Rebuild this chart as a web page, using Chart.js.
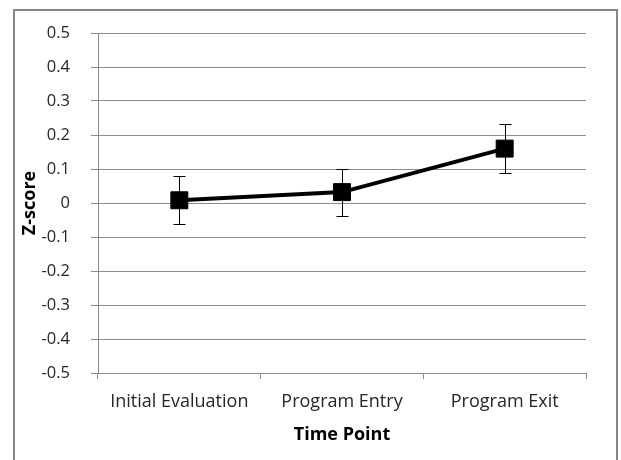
<!DOCTYPE html>
<html>
<head>
<meta charset="utf-8">
<script src="https://cdn.jsdelivr.net/npm/chart.js@4.4.1/dist/chart.umd.min.js"></script>
<style>
    body { margin: 0; background: #fff; }
    #wrap { position: relative; width: 621px; height: 460px; overflow: hidden; }
    #frame { position: absolute; left: 13px; top: 9px; width: 601px; height: 500px; border: 2px solid #868686; }
    #chart { position: absolute; left: 0; top: 0; }
</style>
</head>
<body>
<div id="wrap">
    <div id="frame"></div>
    <canvas id="chart" width="621" height="460"></canvas>
</div>
<script>
// Chart data
const timePoints = ['Initial Evaluation', 'Program Entry', 'Program Exit'];
const zScores = [0.008, 0.032, 0.16];
const errors = [0.07, 0.069, 0.071];
const yTicks = [-0.5, -0.4, -0.3, -0.2, -0.1, 0, 0.1, 0.2, 0.3, 0.4, 0.5];
const yTickLabels = ['-0.5', '-0.4', '-0.3', '-0.2', '-0.1', '0', '0.1', '0.2', '0.3', '0.4', '0.5'];

const FONT = "'Open Sans', sans-serif";
const GRID = '#8c8c8c';

// Draws the vertical error bars with caps
const errorBars = {
    id: 'errorBars',
    afterDatasetsDraw(chart) {
        const ctx = chart.ctx;
        const x = chart.scales.x;
        const y = chart.scales.y;
        ctx.save();
        ctx.strokeStyle = '#000';
        ctx.lineWidth = 1;
        zScores.forEach((v, i) => {
            const px = Math.round(x.getPixelForValue(i)) + 0.5;
            const top = Math.round(y.getPixelForValue(v + errors[i])) + 0.5;
            const bottom = Math.round(y.getPixelForValue(v - errors[i])) + 0.5;
            ctx.beginPath();
            ctx.moveTo(px, top);
            ctx.lineTo(px, bottom);
            ctx.moveTo(px - 6, top);
            ctx.lineTo(px + 6, top);
            ctx.moveTo(px - 6, bottom);
            ctx.lineTo(px + 6, bottom);
            ctx.stroke();
        });
        ctx.restore();
    }
};

new Chart(document.getElementById('chart'), {
    type: 'line',
    data: {
        labels: timePoints,
        datasets: [{
            data: zScores,
            borderColor: '#000',
            borderWidth: 4,
            backgroundColor: '#000',
            pointStyle: 'rect',
            pointRadius: 12,
            pointBackgroundColor: '#000',
            pointBorderColor: '#000',
            pointBorderWidth: 1,
            tension: 0
        }]
    },
    options: {
        responsive: false,
        animation: false,
        events: [],
        layout: { padding: { top: 33, right: 35, bottom: 0, left: 0 } },
        plugins: {
            legend: { display: false },
            tooltip: { enabled: false }
        },
        scales: {
            x: {
                offset: true,
                grid: {
                    offset: true,
                    drawOnChartArea: false,
                    drawTicks: true,
                    tickLength: 6,
                    color: GRID
                },
                border: { color: GRID, width: 1 },
                ticks: {
                    color: '#262626',
                    padding: 12,
                    maxRotation: 0,
                    font: { family: FONT, size: 18 }
                },
                title: {
                    display: true,
                    text: 'Time Point',
                    color: '#000',
                    font: { family: FONT, size: 18, weight: 'bold' },
                    padding: { top: 4, bottom: 14 }
                },
                afterFit(scale) { scale.height = 87; }
            },
            y: {
                min: -0.5,
                max: 0.5,
                afterBuildTicks(scale) {
                    scale.ticks = yTicks.map(v => ({ value: v }));
                },
                grid: {
                    color: GRID,
                    tickLength: 7
                },
                border: { color: GRID, width: 1 },
                ticks: {
                    color: '#262626',
                    padding: 21,
                    font: { family: FONT, size: 16.5 },
                    callback: (value, index) => yTickLabels[index]
                },
                title: {
                    display: true,
                    text: 'Z-score',
                    color: '#000',
                    font: { family: FONT, size: 18, weight: 'bold' },
                    padding: { top: 19, bottom: 0 }
                },
                afterFit(scale) { scale.width = 98; }
            }
        }
    },
    plugins: [errorBars]
});
</script>
</body>
</html>
